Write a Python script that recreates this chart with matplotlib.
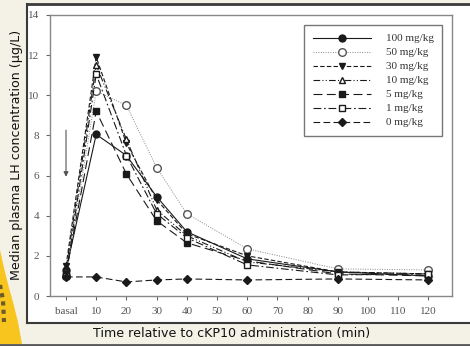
import numpy as np
import matplotlib
matplotlib.use("Agg")
import matplotlib.pyplot as plt
from matplotlib.patches import Rectangle, Polygon
from matplotlib.lines import Line2D

# time points (basal plotted at 0)
times = [0, 10, 20, 30, 40, 60, 90, 120]
tick_pos = [0, 10, 20, 30, 40, 50, 60, 70, 80, 90, 100, 110, 120]
tick_labels = ["basal", "10", "20", "30", "40", "50", "60", "70", "80", "90", "100", "110", "120"]

dose_labels = ["100 mg/kg", "50 mg/kg", "30 mg/kg", "10 mg/kg", "5 mg/kg", "1 mg/kg", "0 mg/kg"]
lh_100 = [1.3, 8.05, 7.0, 4.95, 3.2, 1.85, 1.2, 1.0]
lh_50 = [1.0, 10.2, 9.5, 6.4, 4.1, 2.35, 1.35, 1.3]
lh_30 = [1.5, 11.9, 7.6, 4.8, 3.1, 2.0, 1.2, 1.1]
lh_10 = [1.3, 11.5, 7.8, 4.3, 3.0, 1.7, 1.2, 1.1]
lh_5 = [1.1, 9.2, 6.08, 3.75, 2.65, 1.75, 1.1, 1.0]
lh_1 = [1.0, 11.05, 7.0, 4.1, 2.9, 1.55, 1.05, 1.1]
lh_0 = [0.95, 0.95, 0.7, 0.8, 0.85, 0.8, 0.85, 0.8]

W, H = 470, 346
fig = plt.figure(figsize=(W / 100, H / 100), dpi=100)
fig.patch.set_facecolor("#f4f2e7")

# white scanned panel and its dark borders
fig.add_artist(Rectangle((27 / W, 1 - 323 / H), 1 - 27 / W, (323 - 4) / H,
                         transform=fig.transFigure, facecolor="white", edgecolor="none", zorder=0))
dark = "#3a3a3a"
fig.add_artist(Line2D([27 / W, 1], [1 - 4 / H, 1 - 4 / H], transform=fig.transFigure, color=dark, lw=2))
fig.add_artist(Line2D([27 / W, 27 / W], [1 - 4 / H, 1 - 323 / H], transform=fig.transFigure, color=dark, lw=1.5))
fig.add_artist(Line2D([27 / W, 1], [1 - 323 / H, 1 - 323 / H], transform=fig.transFigure, color=dark, lw=1.5))
fig.add_artist(Line2D([0, 1], [1 - 345 / H, 1 - 345 / H], transform=fig.transFigure, color="#555555", lw=2))

# yellow logo corner
logo = [(0, 250), (4, 268), (9, 288), (13, 302), (18, 322), (22, 344), (0, 344)]
fig.add_artist(Polygon([(x / W, 1 - y / H) for x, y in logo], closed=True,
                       transform=fig.transFigure, facecolor="#f7c51e", edgecolor="none"))
fig.add_artist(Line2D([0, 3 / W, 4 / W], [1 - 285 / H, 1 - 300 / H, 1 - 322 / H],
                      transform=fig.transFigure, color="#6b5a2a", lw=3, ls=(0, (1, 1))))

ax = fig.add_axes([50 / W, 1 - 296 / H, (452 - 50) / W, (296 - 15) / H])

mk = dict(color="#1a1a1a", lw=0.8, markersize=5)
ax.plot(times, lh_100, ls="-", marker="o", mfc="#1a1a1a", label=dose_labels[0], **mk)
ax.plot(times, lh_50, ls=(0, (1, 1.5)), marker="o", mfc="white", label=dose_labels[1],
        color="#888888", lw=0.7, markersize=5.5, mec="#555555")
ax.plot(times, lh_30, ls=(0, (4, 2)), marker="v", mfc="#1a1a1a", label=dose_labels[2], **mk)
ax.plot(times, lh_10, ls=(0, (6, 2, 1, 2, 1, 2)), marker="^", mfc="white", label=dose_labels[3], **mk)
ax.plot(times, lh_5, ls=(0, (8, 4)), marker="s", mfc="#1a1a1a", label=dose_labels[4], **mk)
ax.plot(times, lh_1, ls=(0, (7, 2.5, 1.5, 2.5)), marker="s", mfc="white", label=dose_labels[5], **mk)
ax.plot(times, lh_0, ls=(0, (6, 3)), marker="D", mfc="#1a1a1a", label=dose_labels[6],
        color="#1a1a1a", lw=0.8, markersize=4.5)

# arrow marking injection
ax.annotate("", xy=(0, 5.8), xytext=(0, 8.4),
            arrowprops=dict(arrowstyle="-|>", color="#555555", lw=0.8, mutation_scale=7))

ax.set_xlim(-5.3, 127.8)
ax.set_ylim(0, 14)
ax.set_xticks(tick_pos)
ax.set_xticklabels(tick_labels)
ax.set_yticks(np.arange(0, 15, 2))
for s in ax.spines.values():
    s.set_color("#888888")
    s.set_linewidth(1.0)
ax.tick_params(colors="#666666", labelcolor="#555555", length=3, width=0.8, labelsize=8, pad=5)
for lab in ax.get_xticklabels() + ax.get_yticklabels():
    lab.set_family("Liberation Serif")

leg = ax.legend(loc="upper right", bbox_to_anchor=(0.99, 0.985), prop={"family": "Liberation Serif", "size": 8},
                handlelength=5.2, handletextpad=1.3, labelspacing=0.38, borderpad=0.8,
                fancybox=False, framealpha=1, edgecolor="#777777", labelcolor="#333333")
leg.get_frame().set_linewidth(1.0)

fig.text(17 / W, 1 - 155 / H, "Median plasma LH concentration (µg/L)", rotation=90,
         ha="center", va="center", fontsize=9.1, family="DejaVu Sans", color="#111111")
fig.text(232 / W, 1 - 334 / H, "Time relative to cKP10 administration (min)",
         ha="center", va="center", fontsize=9.1, family="DejaVu Sans", color="#111111")

fig.savefig("out.png", dpi=100, facecolor=fig.get_facecolor())
